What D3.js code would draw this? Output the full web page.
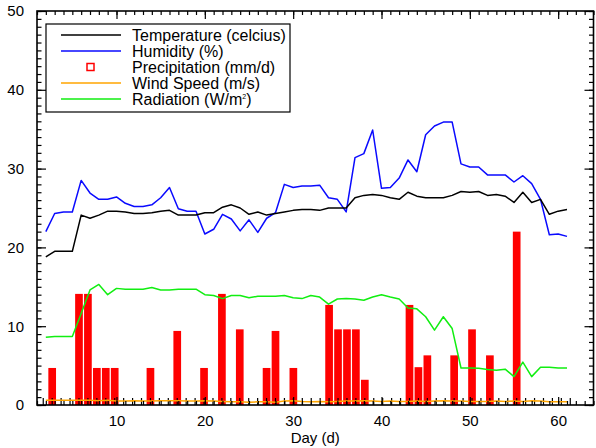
<!DOCTYPE html>
<html>
<head>
<meta charset="utf-8">
<script src="https://cdn.jsdelivr.net/npm/d3@7"></script>
<style>
  body { margin: 0; background: #fff; }
  text { font-family: "Liberation Sans", Arial, Helvetica, sans-serif; }
</style>
</head>
<body>
<div id="chart"></div>
<script>

// days of the record
var days = [2,3,4,5,6,7,8,9,10,11,12,13,14,15,16,17,18,19,20,21,
            22,23,24,25,26,27,28,29,30,31,32,33,34,35,36,37,38,39,40,41,
            42,43,44,45,46,47,48,49,50,51,52,53,54,55,56,57,58,59,60,61];

var temperature = [18.8,19.5,19.5,19.5,24.1,23.7,24.1,24.6,24.6,24.5,
                   24.3,24.3,24.4,24.6,24.7,24.1,24.1,24.1,24.4,24.4,
                   25.1,25.4,25.0,24.2,24.5,24.1,24.3,24.5,24.7,24.8,
                   24.8,24.7,25.0,25.0,25.0,26.3,26.6,26.7,26.6,26.3,
                   26.1,27.0,26.5,26.3,26.3,26.3,26.6,27.1,27.0,27.1,
                   26.6,26.7,26.5,25.7,27.0,25.7,26.1,24.2,24.6,24.8];

var humidity = [22.0,24.3,24.5,24.5,28.5,26.9,26.1,26.1,26.4,25.6,
                25.2,25.2,25.4,26.3,27.6,24.9,24.6,24.6,21.7,22.3,
                24.2,23.6,22.1,23.5,21.9,23.7,24.4,28.0,27.6,27.8,
                27.8,27.9,26.3,26.1,24.5,31.4,31.9,34.9,27.5,27.6,
                28.8,31.1,29.6,34.3,35.4,35.9,35.9,30.6,30.2,30.2,
                29.2,29.2,29.2,28.3,29.1,28.1,26.1,21.6,21.7,21.4];

var windSpeed = [0.6,0.6,0.6,0.6,0.6,0.6,0.55,0.6,0.5,0.5,
                 0.55,0.5,0.5,0.55,0.55,0.55,0.5,0.5,0.55,0.5,
                 0.45,0.4,0.4,0.35,0.4,0.4,0.35,0.5,0.55,0.45,
                 0.4,0.45,0.4,0.45,0.5,0.5,0.55,0.5,0.45,0.5,
                 0.45,0.45,0.5,0.45,0.5,0.55,0.5,0.5,0.45,0.45,
                 0.45,0.5,0.45,0.5,0.45,0.55,0.5,0.4,0.4,0.4];

var radiation = [8.6,8.7,8.7,8.7,11.6,14.6,15.3,14.0,14.8,14.7,
                 14.7,14.7,14.9,14.6,14.6,14.7,14.7,14.7,14.0,13.9,
                 13.5,13.9,13.9,13.6,13.8,13.8,13.8,13.9,13.6,13.5,
                 13.9,13.7,12.8,13.45,13.5,13.45,13.3,13.7,14.0,13.7,
                 13.45,12.3,12.2,11.2,9.5,11.2,9.7,4.7,4.7,4.65,
                 4.5,4.4,4.55,3.6,5.45,3.6,4.8,4.8,4.7,4.7];

// precipitation only on rainy days
var precipDays   = [3,6,7,8,9,10,14,17,20,22,24,27,28,30,34,35,36,37,38,43,44,45,48,50,52,55];
var precipValues = [4.7,14.1,14.1,4.7,4.7,4.7,4.7,9.4,4.7,14.1,9.6,4.7,9.4,4.7,12.7,9.6,9.6,9.6,3.2,12.7,4.8,6.3,6.3,9.6,6.3,22.0];

var xTicks = [10,20,30,40,50,60];
var yTicks = [0,10,20,30,40,50];

var legendItems = [
  {label: "Temperature (celcius)", color: "black",   kind: "line"},
  {label: "Humidity (%)",          color: "#0a0aff", kind: "line"},
  {label: "Precipitation (mm/d)",  color: "#ff0000", kind: "square"},
  {label: "Wind Speed (m/s)",      color: "#ffa500", kind: "line"},
  {label: "Radiation (W/m",        color: "#11ee11", kind: "line", sup: "2", tail: ")"}
];

var margin = {top: 11, right: 2.5, bottom: 43, left: 37},
    width = 596 - margin.left - margin.right,
    height = 448 - margin.top - margin.bottom;

var svg = d3.select("#chart").append("svg")
    .attr("width", 596)
    .attr("height", 448);

var g = svg.append("g")
    .attr("transform", "translate(" + margin.left + "," + margin.top + ")");

var x = d3.scaleLinear().domain([1, 64]).range([0, width]);
// the bar plot was laid out on its own slightly wider grid
var xBar = d3.scaleLinear().domain([1.3, 63.6]).range([0, width]);
var y = d3.scaleLinear().domain([0, 50]).range([height, 0]);

var barW = (xBar(2) - xBar(1)) * 0.86;

// precipitation bars
g.selectAll("rect.bar")
    .data(precipDays)
  .enter().append("rect")
    .attr("class", "bar")
    .attr("x", function(d) { return xBar(d) - barW / 2; })
    .attr("width", barW)
    .attr("y", function(d, i) { return y(precipValues[i]); })
    .attr("height", function(d, i) { return height - y(precipValues[i]); })
    .style("fill", "#ff0000");

// little ticks of the bar plot baseline
g.selectAll("line.btick")
    .data(days)
  .enter().append("line")
    .attr("class", "btick")
    .attr("x1", function(d) { return xBar(d); })
    .attr("x2", function(d) { return xBar(d); })
    .attr("y1", height)
    .attr("y2", height - 7)
    .style("stroke", "black")
    .style("stroke-width", 1.2);

function drawLine(values, color) {
  var line = d3.line()
      .x(function(d, i) { return x(days[i]); })
      .y(function(d) { return y(d); });
  g.append("path")
      .datum(values)
      .attr("d", line)
      .style("fill", "none")
      .style("stroke", color)
      .style("stroke-width", 1.5)
      .style("stroke-linejoin", "round");
}

drawLine(windSpeed, "#ffa500");
drawLine(radiation, "#11ee11");
drawLine(humidity, "#0a0aff");
drawLine(temperature, "black");

// axes, IDL style box with ticks on all four sides
var xMinor = d3.range(1, 65);
var yMinor = d3.range(0, 51);

g.append("g")
    .attr("transform", "translate(0," + height + ")")
    .call(d3.axisBottom(x).tickValues(xTicks).tickFormat(d3.format("d")).tickSize(-8).tickPadding(10));
g.append("g")
    .attr("transform", "translate(0," + height + ")")
    .call(d3.axisBottom(x).tickValues(xMinor).tickFormat("").tickSize(-4));
g.append("g")
    .call(d3.axisTop(x).tickValues(xTicks).tickFormat("").tickSize(-8));
g.append("g")
    .call(d3.axisTop(x).tickValues(xMinor).tickFormat("").tickSize(-4));

g.append("g")
    .call(d3.axisLeft(y).tickValues(yTicks).tickFormat(d3.format("d")).tickSize(-9).tickPadding(13));
g.append("g")
    .call(d3.axisLeft(y).tickValues(yMinor).tickFormat("").tickSize(-4.5));
g.append("g")
    .attr("transform", "translate(" + width + ",0)")
    .call(d3.axisRight(y).tickValues(yTicks).tickFormat("").tickSize(-9));
g.append("g")
    .attr("transform", "translate(" + width + ",0)")
    .call(d3.axisRight(y).tickValues(yMinor).tickFormat("").tickSize(-4.5));

g.selectAll(".domain").remove();
g.selectAll(".tick line").style("stroke", "black").style("stroke-width", 1.2);
g.selectAll(".tick text")
    .style("font-size", "15px")
    .style("fill", "black");

g.append("rect")
    .attr("width", width)
    .attr("height", height)
    .style("fill", "none")
    .style("stroke", "black")
    .style("stroke-width", 1.6);

g.append("text")
    .attr("x", width / 2)
    .attr("y", height + 38)
    .style("text-anchor", "middle")
    .style("font-size", "15px")
    .text("Day (d)");

// legend
var lg = svg.append("g").attr("transform", "translate(46,24)");
lg.append("rect")
    .attr("width", 244)
    .attr("height", 88)
    .style("fill", "white")
    .style("stroke", "black")
    .style("stroke-width", 1.2);

var rows = lg.selectAll("g.row")
    .data(legendItems)
  .enter().append("g")
    .attr("class", "row")
    .attr("transform", function(d, i) { return "translate(0," + (11 + i * 16) + ")"; });

rows.filter(function(d) { return d.kind == "line"; })
  .append("line")
    .attr("x1", 15).attr("x2", 75)
    .attr("y1", 0).attr("y2", 0)
    .style("stroke", function(d) { return d.color; })
    .style("stroke-width", 1.5);

rows.filter(function(d) { return d.kind == "square"; })
  .append("rect")
    .attr("x", 41).attr("y", -3.5)
    .attr("width", 7).attr("height", 7)
    .style("fill", "none")
    .style("stroke", function(d) { return d.color; })
    .style("stroke-width", 1.5);

var lt = rows.append("text")
    .attr("x", 86)
    .attr("y", 5.5)
    .style("font-size", "16px")
    .text(function(d) { return d.label; });

lt.filter(function(d) { return d.sup; })
  .append("tspan")
    .attr("dy", -6)
    .style("font-size", "7px")
    .text(function(d) { return d.sup; });
lt.filter(function(d) { return d.tail; })
  .append("tspan")
    .attr("dy", 6)
    .text(function(d) { return d.tail; });

</script>
</body>
</html>
